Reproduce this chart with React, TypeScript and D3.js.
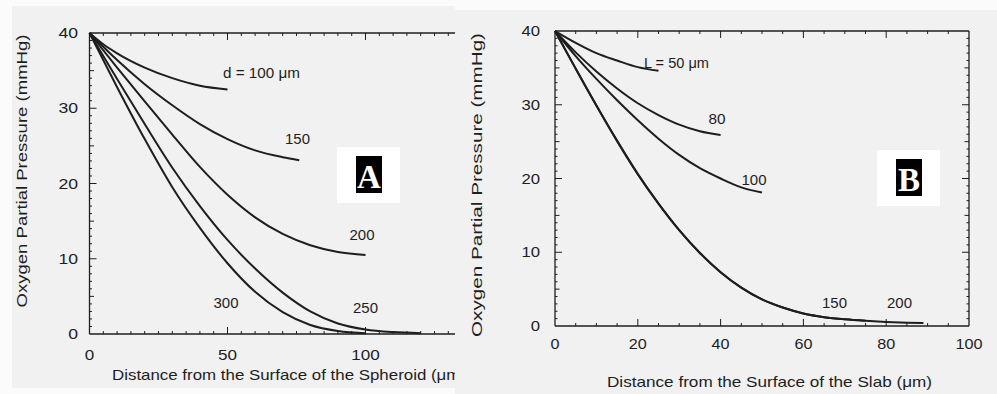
import * as d3 from "d3";
import { useEffect, useRef } from "react";

type Pt = [number, number];

// Panel A: spheroid, distance (um) vs pO2 (mmHg), one array per diameter
const sph100: Pt[] = [[0, 40], [5, 38.5], [10, 37.3], [20, 35.4], [30, 34.0], [40, 33.0], [50, 32.5]];
const sph150: Pt[] = [[0, 40], [10, 36.4], [20, 33.2], [30, 30.4], [40, 27.9], [50, 25.9], [60, 24.4], [70, 23.5], [76, 23.1]];
const sph200: Pt[] = [[0, 40], [10, 35.4], [20, 30.9], [30, 26.5], [40, 22.2], [50, 18.5], [60, 15.5], [70, 13.3], [80, 11.8], [90, 10.9], [100, 10.5]];
const sph250: Pt[] = [[0, 40], [10, 33.9], [20, 27.9], [30, 22.1], [40, 17.0], [50, 12.5], [60, 8.7], [70, 5.5], [80, 3.0], [90, 1.4], [100, 0.6], [110, 0.25], [120, 0.1]];
const sph300: Pt[] = [[0, 40], [10, 32.8], [20, 25.9], [30, 19.5], [40, 14.1], [50, 9.4], [60, 5.6], [70, 2.9], [80, 1.2], [90, 0.4], [100, 0.1]];

// Panel B: slab, one array per thickness
const slab50: Pt[] = [[0, 40], [5, 38.4], [10, 37.0], [15, 36.0], [20, 35.1], [25, 34.6]];
const slab80: Pt[] = [[0, 40], [5, 37.1], [10, 34.5], [15, 32.2], [20, 30.2], [25, 28.6], [30, 27.3], [35, 26.4], [40, 25.9]];
const slab100: Pt[] = [[0, 40], [5, 36.6], [10, 33.5], [15, 30.6], [20, 27.9], [25, 25.4], [30, 23.2], [35, 21.4], [40, 20.0], [45, 18.8], [50, 18.1]];
const slab150: Pt[] = [[0, 40], [5, 34.9], [10, 29.9], [15, 25.1], [20, 20.6], [25, 16.6], [30, 13.0], [35, 9.9], [40, 7.3], [45, 5.2], [50, 3.6], [55, 2.5], [60, 1.7], [65, 1.2], [70, 0.9], [75, 0.7]];
const slab200: Pt[] = [...slab150, [80, 0.55], [85, 0.45], [89, 0.4]];

const yTickValues = [0, 10, 20, 30, 40];
const xTicksA = [0, 50, 100];
const xTicksB = [0, 20, 40, 60, 80, 100];

const yTitle = "Oxygen Partial Pressure (mmHg)";
const xTitleA = "Distance from the Surface of the Spheroid (μm)";
const xTitleB = "Distance from the Surface of the Slab (μm)";

const INK = "#1e1e1e";
const FONT = "Liberation Sans, Arial, sans-serif";

type Sel = d3.Selection<SVGGElement, unknown, null, undefined>;

function drawAxes(
  g: Sel,
  x: d3.ScaleLinear<number, number>,
  y: d3.ScaleLinear<number, number>,
  right: number,
  xMinor: number,
  xMajor: number,
  rightTicks: boolean
) {
  const [x0] = x.range();
  const [y0, y1] = y.range();
  const frame = g.append("g").attr("stroke", INK).attr("fill", "none").attr("stroke-width", 1.3);
  frame.append("line").attr("x1", x0).attr("x2", x0).attr("y1", y0).attr("y2", y1);
  frame.append("line").attr("x1", x0).attr("x2", right).attr("y1", y0).attr("y2", y0);
  frame.append("line").attr("x1", x0).attr("x2", right).attr("y1", y1).attr("y2", y1);
  if (rightTicks) frame.append("line").attr("x1", right).attr("x2", right).attr("y1", y0).attr("y2", y1);

  const yLen = (v: number) => (v % 10 === 0 ? 7 : v % 5 === 0 ? 4.5 : 2.5);
  d3.range(1, 40).forEach((v) => {
    const py = y(v);
    frame.append("line").attr("x1", x0).attr("x2", x0 + yLen(v)).attr("y1", py).attr("y2", py).attr("stroke-width", 1);
    if (rightTicks)
      frame.append("line").attr("x1", right).attr("x2", right - yLen(v)).attr("y1", py).attr("y2", py).attr("stroke-width", 1);
  });
  const xMax = x.invert(right);
  d3.range(xMinor, xMax, xMinor).forEach((v) => {
    const px = x(v);
    const len = Math.abs(v % xMajor) < 1e-6 ? 7 : 3;
    frame.append("line").attr("x1", px).attr("x2", px).attr("y1", y0).attr("y2", y0 - len).attr("stroke-width", 1);
    frame.append("line").attr("x1", px).attr("x2", px).attr("y1", y1).attr("y2", y1 + len).attr("stroke-width", 1);
  });
}

function drawCurves(g: Sel, x: d3.ScaleLinear<number, number>, y: d3.ScaleLinear<number, number>, series: Pt[][]) {
  const line = d3
    .line<Pt>()
    .x((d) => x(d[0]))
    .y((d) => y(d[1]))
    .curve(d3.curveMonotoneX);
  g.selectAll("path.curve")
    .data(series)
    .join("path")
    .attr("class", "curve")
    .attr("fill", "none")
    .attr("stroke", INK)
    .attr("stroke-width", 2)
    .attr("d", line);
}

function addText(g: Sel, txt: string, px: number, py: number, size: number, len: number, anchor = "middle") {
  return g
    .append("text")
    .attr("x", px)
    .attr("y", py)
    .attr("font-family", FONT)
    .attr("font-size", size)
    .attr("fill", INK)
    .attr("text-anchor", anchor)
    .attr("textLength", len)
    .attr("lengthAdjust", "spacingAndGlyphs")
    .text(txt);
}

function badge(g: Sel, letter: string, bx: number, by: number) {
  g.append("rect").attr("x", bx).attr("y", by).attr("width", 63).attr("height", 56).attr("fill", "#ffffff");
  g.append("rect").attr("x", bx + 19).attr("y", by + 9).attr("width", 26).attr("height", 37).attr("fill", "#000");
  g.append("text")
    .attr("x", bx + 32)
    .attr("y", by + 41)
    .attr("text-anchor", "middle")
    .attr("font-family", "Liberation Serif, Times New Roman, serif")
    .attr("font-weight", "bold")
    .attr("font-size", 33)
    .attr("fill", "#fff")
    .text(letter);
}

const App: React.FC = () => {
  const ref = useRef<SVGSVGElement | null>(null);

  useEffect(() => {
    const svg = d3.select(ref.current);
    svg.selectAll("*").remove();
    const root = svg.append("g") as unknown as Sel;

    root.append("rect").attr("width", 997).attr("height", 394).attr("fill", "#fbfbfb");
    root.append("rect").attr("x", 12).attr("y", 6).attr("width", 443).attr("height", 382).attr("fill", "#f1f1f1");
    root.append("rect").attr("x", 455).attr("y", 10).attr("width", 542).attr("height", 384).attr("fill", "#f1f1f1");

    svg
      .append("defs")
      .append("clipPath")
      .attr("id", "clipA")
      .append("rect")
      .attr("x", 0)
      .attr("y", 0)
      .attr("width", 455)
      .attr("height", 394);

    // ---- Panel A (spheroid) ----
    const gA = root.append("g").attr("clip-path", "url(#clipA)") as unknown as Sel;
    const xA = d3.scaleLinear().domain([0, 100]).range([89.5, 365.5]);
    const yA = d3.scaleLinear().domain([0, 40]).range([334, 33]);
    drawAxes(gA, xA, yA, 455, 5, 50, false);
    drawCurves(gA, xA, yA, [sph100, sph150, sph200, sph250, sph300]);
    yTickValues.forEach((v) => addText(gA, String(v), 78, yA(v) + 5, 14.5, String(v).length * 9.8, "end"));
    xTicksA.forEach((v) => addText(gA, String(v), xA(v), 360, 14.5, String(v).length * 9.5));
    addText(gA, xTitleA, 112, 380, 14.5, 354, "start");
    addText(gA, yTitle, 0, 0, 14.5, 273).attr("transform", "translate(27,171) rotate(-90)");
    addText(gA, "d = 100 μm", 223, 78, 14, 77, "start");
    addText(gA, "150", 297.5, 144, 14, 25);
    addText(gA, "200", 362, 240, 14, 25);
    addText(gA, "250", 365.5, 313, 14, 25);
    addText(gA, "300", 226, 308, 14, 25);
    badge(gA, "A", 337, 147);

    // ---- Panel B (slab) ----
    const gB = root.append("g") as unknown as Sel;
    const xB = d3.scaleLinear().domain([0, 100]).range([555, 969]);
    const yB = d3.scaleLinear().domain([0, 40]).range([326, 31]);
    drawAxes(gB, xB, yB, 969, 5, 20, true);
    drawCurves(gB, xB, yB, [slab50, slab80, slab100, slab200, slab150]);
    yTickValues.forEach((v) => addText(gB, String(v), 540, yB(v) + 5, 14.5, String(v).length * 9.3, "end"));
    xTicksB.forEach((v) => addText(gB, String(v), xB(v), 349, 14.5, String(v).length * 9));
    addText(gB, xTitleB, 769.5, 387, 14.5, 325);
    addText(gB, yTitle, 0, 0, 14.5, 304).attr("transform", "translate(482,185) rotate(-90)");
    addText(gB, "L = 50 μm", 644, 68, 14, 65, "start");
    addText(gB, "80", 717, 124, 14, 17);
    addText(gB, "100", 754, 185, 14, 25);
    addText(gB, "150", 834.5, 308, 14, 25);
    addText(gB, "200", 899.5, 308, 14, 25);
    badge(gB, "B", 877, 150);
  }, []);

  return (
    <svg
      ref={ref}
      width={997}
      height={394}
      style={{ position: "absolute", left: 0, top: 0, display: "block" }}
    ></svg>
  );
};

export default App;
